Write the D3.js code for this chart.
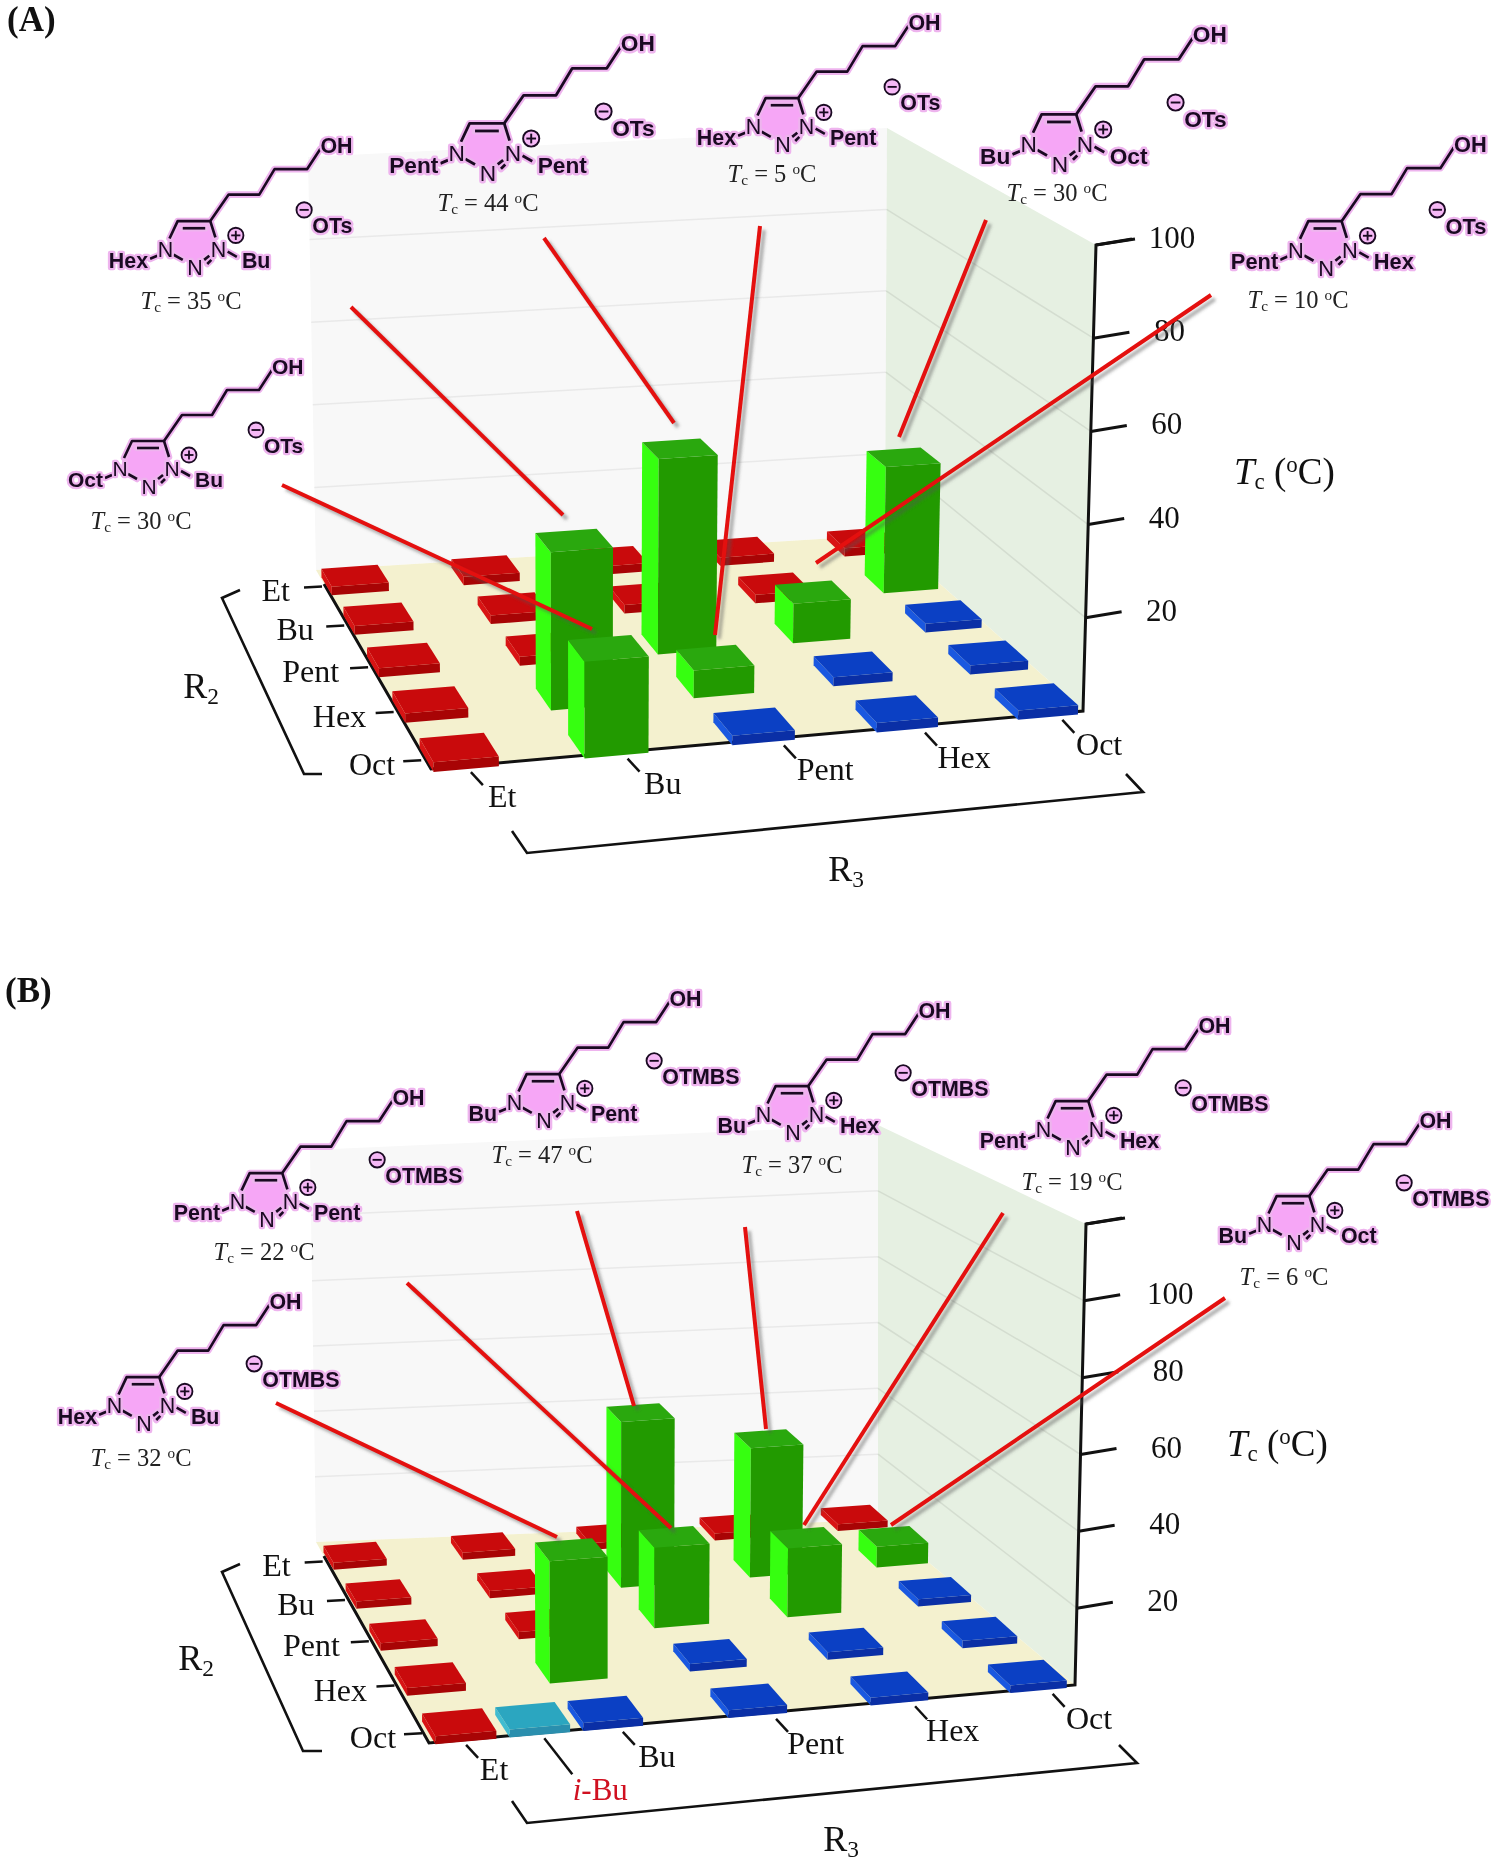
<!DOCTYPE html>
<html><head><meta charset="utf-8">
<script src="https://cdn.jsdelivr.net/npm/d3@7"></script>
<style>html,body{margin:0;padding:0;background:#fff}svg{display:block;filter:blur(0.45px)}</style>
</head><body><div id="chart"></div>
<script>
// ---------- DATA ----------
const r2Labels = ["Et","Bu","Pent","Hex","Oct"];
const r3Labels = ["Et","Bu","Pent","Hex","Oct"];
const yTicksA = [20,40,60,80,100];
const yTicksB = [20,40,60,80,100,120];
const yLabelsB = [20,40,60,80,100];

// bar heights, rows = R2, columns = R3
const heightsA = [
  [2,2,2,2,2],
  [2,2,2,2,30],
  [2,2,44,9,2],
  [2,34,6,2,2],
  [2,20,2,2,2]];
const kindsA = ["rrrrr","rrrrg","rrggb","rggbb","rgbbb"];
const heightsB = [
  [2,2,2,2,2],
  [2,2,47,37,6],
  [2,2,22,19,2],
  [2,32,2,2,2],
  [2,2,2,2,2]];
const kindsB = ["rrrrr","rrggg","rrggb","rgbbb","rbbbb"];
const iBuHeightB = 2;

const leftA  = ["Oct","Hex","Pent","Hex","Bu","Pent"];
const rightA = ["Bu","Bu","Pent","Pent","Oct","Hex"];
const tcA    = [30,35,44,5,30,10];
const leftB  = ["Hex","Pent","Bu","Bu","Pent","Bu"];
const rightB = ["Bu","Pent","Pent","Hex","Hex","Oct"];
const tcB    = [32,22,47,37,19,6];

// ---------- LAYOUT CALIBRATION ----------
const panelA = {
  title:"(A)", titlePos:[7,31], hw:0.215, hd:0.24,
  cells:[[355,584],[862,546],[1036,706],[459,757]],
  floor:[[431,769],[1083,711],[885,535],[316,570]],
  wallTopL:[308,157], wallTopR:[887,128], axisTop:[1096,245],
  yMax:100, yTicks:yTicksA, yLabels:yTicksA, yLabelDx:0,
  r3Shift:[-2,8,23,18,12],
  heights:heightsA, kinds:kindsA, left:leftA, right:rightA, tc:tcA, anion:"OTs",
  anionOff:[115,-40], zoom:[1,1.02,1.08,1.02,1.08,1.04],
  n2:[[149,486],[195,267],[488,172],[783,144],[1060,163],[1326,268]],
  tcPos:[[141,521],[191,301],[488,203],[772,174],[1057,193],[1298,300]],
  leaders:[[282,485,592,629],[351,307,563,515],[544,238,674,423],[760,226,715,635],[986,220,899,437],[1211,295,816,563]],
  r2Bracket:[[240,590],[222,598],[304,774],[322,774]],
  r3Bracket:[[512,831],[527,853],[1143,792],[1126,774]],
  r2Pos:[201,698], r3Pos:[827,881], tcAxis:[1234,484]
};
const panelB = {
  title:"(B)", titlePos:[5,1002], hw:0.205, hd:0.23,
  cells:[[355,1559],[854,1521],[1027,1680],[459,1730]],
  floor:[[429,1743],[1075,1685],[878,1520],[316,1542]],
  wallTopL:[310,1150], wallTopR:[878,1125], axisTop:[1086,1224],
  yMax:120, yTicks:yTicksB, yLabels:yLabelsB, yLabelDx:10,
  r3Shift:[-10,5,19,14,11],
  heights:heightsB, kinds:kindsB, left:leftB, right:rightB, tc:tcB, anion:"OTMBS",
  anionOff:[116,-42], zoom:[1.02,1.02,1.02,1.02,1.02,1.02],
  n2:[[144,1423],[267,1219],[544,1120],[793,1132],[1073,1147],[1294,1242]],
  tcPos:[[141,1458],[264,1252],[542,1155],[792,1165],[1072,1182],[1284,1277]],
  leaders:[[276,1403,557,1537],[407,1283,671,1528],[577,1211,634,1406],[745,1227,766,1429],[1003,1213,804,1525],[1225,1298,891,1525]],
  r2Bracket:[[240,1564],[222,1572],[303,1751],[322,1751]],
  r3Bracket:[[512,1801],[527,1823],[1137,1763],[1119,1745]],
  r2Pos:[196,1670], r3Pos:[822,1851], tcAxis:[1227,1456],
  iBu:true
};
const palette = {
  r:{top:"#c90a0c",front:"#a80405",left:"#d81414"},
  b:{top:"#0b40c4",front:"#0a2fa6",left:"#1a58e0"},
  g:{top:"#2aa80e",front:"#229a00",left:"#36ff10"},
  t:{top:"#2ba6c0",front:"#2a8fae",left:"#40bcd0"}
};
const serif = "'Liberation Serif','Times New Roman',serif";
const sans = "'Liberation Sans',Arial,sans-serif";

const svg = d3.select("#chart").append("svg").attr("width",1502).attr("height",1868);
const defs = svg.append("defs");
defs.append("filter").attr("id","blur").attr("x","-20%").attr("y","-20%").attr("width","140%").attr("height","140%")
  .append("feGaussianBlur").attr("stdDeviation",1.6);
const line = d3.line();
const poly = pts => line(pts)+"Z";

function rich(g,x,y,parts,opt){
  const t=g.append("text").attr("x",x).attr("y",y)
    .attr("font-family",opt.family||serif).attr("font-size",opt.size)
    .attr("text-anchor",opt.anchor||"start").attr("fill",opt.fill||"#111");
  let prev=0;
  parts.forEach(p=>{
    const s=t.append("tspan").text(p.t);
    const d=p.dy||0;
    if(d!==prev) s.attr("dy",d-prev);
    prev=d;
    if(p.size) s.attr("font-size",opt.size*p.size);
    if(p.italic) s.attr("font-style","italic");
    if(p.fill) s.attr("fill",p.fill);
  });
  return t;
}

function drawPanel(P){
  const g=svg.append("g");
  // homography from the grid of cells to the page
  const sI=d3.scaleLinear().domain([0,4]).range([0,1]);
  const [p00,p10,p11,p01]=P.cells;
  const dx1=p10[0]-p11[0],dx2=p01[0]-p11[0],dx3=p00[0]-p10[0]+p11[0]-p01[0];
  const dy1=p10[1]-p11[1],dy2=p01[1]-p11[1],dy3=p00[1]-p10[1]+p11[1]-p01[1];
  const den=dx1*dy2-dx2*dy1;
  const G=(dx3*dy2-dx2*dy3)/den, H=(dx1*dy3-dx3*dy1)/den;
  const a=p10[0]-p00[0]+G*p10[0],b=p01[0]-p00[0]+H*p01[0],c=p00[0];
  const d=p10[1]-p00[1]+G*p10[1],e=p01[1]-p00[1]+H*p01[1],f=p00[1];
  const W=(i,j)=>G*sI(i)+H*sI(j)+1;
  const flat=(i,j)=>{const s=sI(i),t=sI(j),w=W(i,j);return [(a*s+b*t+c)/w,(d*s+e*t+f)/w];};
  const [FL,FR,BR,BL]=P.floor;
  const yPx=d3.scaleLinear().domain([0,P.yMax]).range([0,FR[1]-P.axisTop[1]]);
  const wRef=W(4.3,4.3);
  const leanX=d3.scaleLinear().domain([316,FR[0]]).range([-0.015,(P.axisTop[0]-FR[0])/(FR[1]-P.axisTop[1])]);
  const pt=(i,j,v)=>{const [x,y]=flat(i,j);const h=yPx(v)*wRef/W(i,j);return [x+h*leanX(x),y-h];};

  // walls
  const lerp=(A,B,t)=>[A[0]+(B[0]-A[0])*t,A[1]+(B[1]-A[1])*t];
  const frac=d3.scaleLinear().domain([0,P.yMax]).range([0,1]);
  g.append("path").attr("d",poly([BL,P.wallTopL,P.wallTopR,BR])).attr("fill","#f8f8f8");
  g.append("path").attr("d",poly([BR,P.wallTopR,P.axisTop,FR])).attr("fill","#e6f0e2");
  g.append("path").attr("d",poly([FL,FR,BR,BL])).attr("fill","#f4f1cf");
  const backGrid=g.append("g"), rightGrid=g.append("g");
  P.yTicks.filter(v=>v<P.yMax).forEach(v=>{
    const t=frac(v),l=lerp(BL,P.wallTopL,t),m=lerp(BR,P.wallTopR,t),r=lerp(FR,P.axisTop,t);
    backGrid.append("path").attr("d",line([l,m])).attr("stroke","#e9e9e9").attr("stroke-width",1.5).attr("fill","none");
    rightGrid.append("path").attr("d",line([m,r])).attr("stroke","#d4ddd0").attr("stroke-width",1.5).attr("fill","none");
  });
  // frame
  const black="#111";
  g.append("path").attr("d",line([lerp(BL,FL,0.07),FL,FR,P.axisTop,[P.axisTop[0]+39,P.axisTop[1]-6]]))
    .attr("fill","none").attr("stroke",black).attr("stroke-width",3);
  // brackets
  [P.r2Bracket,P.r3Bracket].forEach(br=>g.append("path").attr("d",line(br)).attr("fill","none")
    .attr("stroke",black).attr("stroke-width",2.6));
  // R2 ticks and labels
  r2Labels.forEach((t,j)=>{
    const q=flat(-0.25,j);
    g.append("line").attr("x1",q[0]).attr("y1",q[1]).attr("x2",q[0]-18).attr("y2",q[1]+1).attr("stroke",black).attr("stroke-width",2.5);
    g.append("text").text(t).attr("x",q[0]-32+j*1.5).attr("y",q[1]+15).attr("text-anchor","end")
      .attr("font-family",serif).attr("font-size",32).attr("fill","#111");
  });
  // R3 ticks and labels
  r3Labels.forEach((t,i)=>{
    const q=flat(i,4.3), sh=P.r3Shift[i], x=q[0]+4+sh*0.6;
    g.append("line").attr("x1",x).attr("y1",q[1]).attr("x2",x+12).attr("y2",q[1]+13).attr("stroke",black).attr("stroke-width",2.5);
    g.append("text").text(t).attr("x",q[0]+36+sh).attr("y",q[1]+35).attr("text-anchor","middle")
      .attr("font-family",serif).attr("font-size",32).attr("fill","#111");
  });
  if(P.iBu){
    const q=flat(0.5,4.3);
    g.append("line").attr("x1",q[0]+2).attr("y1",q[1]).attr("x2",q[0]+30).attr("y2",q[1]+36).attr("stroke",black).attr("stroke-width",2.5);
    rich(g,q[0]+58,q[1]+62,[{t:"i",italic:true},{t:"-Bu"}],{size:31,fill:"#d01020",anchor:"middle"});
  }
  // value axis ticks
  P.yTicks.forEach(v=>{
    const t=frac(v),q=lerp(FR,P.axisTop,t);
    g.append("line").attr("x1",q[0]).attr("y1",q[1]).attr("x2",q[0]+36).attr("y2",q[1]-6).attr("stroke",black).attr("stroke-width",3);
    if(P.yLabels.includes(v))
      g.append("text").text(v).attr("x",q[0]+76+P.yLabelDx).attr("y",q[1]+3).attr("text-anchor","middle")
       .attr("font-family",serif).attr("font-size",31).attr("fill","#111");
  });
  // bars
  const items=[];
  P.heights.forEach((row,j)=>row.forEach((v,i)=>items.push({i,j,v,k:P.kinds[j][i]})));
  if(P.iBu) items.push({i:0.5,j:4,v:iBuHeightB,k:"t"});
  items.sort((A,B)=>A.j-B.j||B.i-A.i);
  const hw=P.hw,hd=P.hd;
  const bars=g.append("g");
  items.forEach(o=>{
    const col=palette[o.k],l=o.i-hw,r=o.i+hw,bk=o.j-hd,fr=o.j+hd;
    bars.append("path").attr("d",poly([pt(l,bk,0),pt(l,fr,0),pt(l,fr,o.v),pt(l,bk,o.v)])).attr("fill",col.left);
    bars.append("path").attr("d",poly([pt(l,fr,0),pt(r,fr,0),pt(r,fr,o.v),pt(l,fr,o.v)])).attr("fill",col.front);
    bars.append("path").attr("d",poly([pt(l,bk,o.v),pt(r,bk,o.v),pt(r,fr,o.v),pt(l,fr,o.v)])).attr("fill",col.top);
  });
  // captions
  rich(g,P.titlePos[0],P.titlePos[1],[{t:P.title}],{size:35,fill:"#111"}).attr("font-weight","bold");
  rich(g,P.r2Pos[0],P.r2Pos[1],[{t:"R"},{t:"2",size:0.65,dy:6}],{size:36,anchor:"middle"});
  rich(g,P.r3Pos[0]+19,P.r3Pos[1],[{t:"R"},{t:"3",size:0.65,dy:6}],{size:36,anchor:"middle"});
  rich(g,P.tcAxis[0],P.tcAxis[1],[{t:"T",italic:true},{t:"c",size:0.62,dy:5},{t:" (",dy:0},{t:"o",size:0.62,dy:-12},{t:"C)",dy:0}],{size:37});
  // structures
  P.n2.forEach((n,k)=>structure(g,n,P,k));
  // leaders
  P.leaders.forEach(L=>{
    g.append("line").attr("x1",L[0]+4).attr("y1",L[1]+4).attr("x2",L[2]+4).attr("y2",L[3]+4)
      .attr("stroke","#555").attr("stroke-opacity",.45).attr("stroke-width",4).attr("filter","url(#blur)");
    g.append("line").attr("x1",L[0]).attr("y1",L[1]).attr("x2",L[2]).attr("y2",L[3])
      .attr("stroke","#e4100f").attr("stroke-width",4);
  });
}

function structure(g,n,P,k){
  const s=g.append("g").attr("transform",`translate(${n[0]},${n[1]}) scale(${P.zoom[k]})`);
  const pink="#eeb4ee",ink="#1a0a22";
  const chain=[[15,-45],[33,-71],[63,-71],[78,-96],[110,-96],[123,-116]];
  const bonds=[
    [[-25,-28],[-17,-45],[15,-45],[20,-29]],
    [[-12,-38],[10,-38]],
    [[-21,-12],[-12,-7]],
    [[9,-7],[14,-11]],[[12,-3],[16,-7]],
    [[-44,-8],[-37,-11]],
    [[32,-15],[41,-10]],
    chain];
  s.append("path").attr("d",poly([[-29,-18],[-17,-45],[15,-45],[23,-18],[0,0]])).attr("fill","#f6a6f6");
  bonds.forEach(b=>s.append("path").attr("d",line(b)).attr("fill","none").attr("stroke",pink).attr("stroke-width",6.5).attr("stroke-linejoin","round").attr("stroke-linecap","round"));
  bonds.forEach(b=>s.append("path").attr("d",line(b)).attr("fill","none").attr("stroke",ink).attr("stroke-width",2.6).attr("stroke-linejoin","round"));
  const lab=(t,x,y,anchor,weight)=>s.append("text").text(t).attr("x",x).attr("y",y).attr("text-anchor",anchor)
    .attr("font-family",sans).attr("font-size",21).attr("font-weight",weight||"bold").attr("fill",ink)
    .attr("stroke",pink).attr("stroke-width",4.5).attr("stroke-linejoin","round").attr("paint-order","stroke");
  lab("N",0,8,"middle","normal"); lab("N",-29,-10,"middle","normal"); lab("N",23,-10,"middle","normal");
  lab(P.left[k],-46,1,"end"); lab(P.right[k],46,1,"start");
  lab("OH",123,-112,"start");
  lab(P.anion,P.anionOff[0],P.anionOff[1]+7,"start");
  // charges
  const sign=(x,y,plus)=>{
    s.append("circle").attr("cx",x).attr("cy",y).attr("r",7.5).attr("fill","#f6b8f6").attr("stroke",ink).attr("stroke-width",1.8);
    s.append("path").attr("d",line([[x-4.5,y],[x+4.5,y]])).attr("stroke",ink).attr("stroke-width",1.8);
    if(plus) s.append("path").attr("d",line([[x,y-4.5],[x,y+4.5]])).attr("stroke",ink).attr("stroke-width",1.8);
  };
  sign(40,-31,true);
  sign(P.anionOff[0]-8,P.anionOff[1]-16,false);
  // caption
  const t=P.tcPos[k];
  rich(g,t[0],t[1]+8,[{t:"T",italic:true},{t:"c",size:0.62,dy:3},{t:" = "+P.tc[k]+" ",dy:0},{t:"o",size:0.62,dy:-8},{t:"C",dy:0}],
    {size:24.5,anchor:"middle",fill:"#222"});
}
drawPanel(panelA);
drawPanel(panelB);
</script></body></html>
